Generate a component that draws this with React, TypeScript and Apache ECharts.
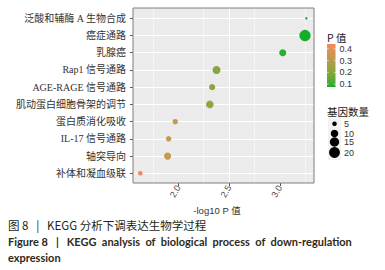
import React, { useEffect, useRef } from "react";
import * as echarts from "echarts";

// ---------- data ----------
const categories = [
  "泛酸和辅酶 A 生物合成",
  "癌症通路",
  "乳腺癌",
  "Rap1 信号通路",
  "AGE-RAGE 信号通路",
  "肌动蛋白细胞骨架的调节",
  "蛋白质消化吸收",
  "IL-17 信号通路",
  "轴突导向",
  "补体和凝血级联",
];
const negLog10P = [3.259, 3.246, 3.027, 2.376, 2.333, 2.31, 1.97, 1.905, 1.895, 1.626];
const geneCount = [4, 22, 9, 11, 7, 10, 6, 6, 9, 5];
const pValue = [0.08, 0.076, 0.09, 0.2, 0.21, 0.22, 0.33, 0.33, 0.34, 0.44];
const xTicks = [2.0, 2.5, 3.0];
const colorBreaks = [0.1, 0.2, 0.3, 0.4];
const sizeBreaks = [5, 10, 15, 20];

// ---------- scales ----------
const LOW = "#12AD2B";
const HIGH = "#F4885A";
const pMin = 0.076;
const pMax = 0.44;

function lin(c: number) {
  c /= 255;
  return c <= 0.04045 ? c / 12.92 : Math.pow((c + 0.055) / 1.055, 2.4);
}
function unlin(c: number) {
  const v = c <= 0.0031308 ? 12.92 * c : 1.055 * Math.pow(c, 1 / 2.4) - 0.055;
  return Math.round(Math.max(0, Math.min(1, v)) * 255);
}
function hexToLab(hex: string) {
  const r = lin(parseInt(hex.slice(1, 3), 16));
  const g = lin(parseInt(hex.slice(3, 5), 16));
  const b = lin(parseInt(hex.slice(5, 7), 16));
  const X = (0.4124 * r + 0.3576 * g + 0.1805 * b) / 0.95047;
  const Y = 0.2126 * r + 0.7152 * g + 0.0722 * b;
  const Z = (0.0193 * r + 0.1192 * g + 0.9505 * b) / 1.08883;
  const f = (t: number) => (t > 0.008856 ? Math.cbrt(t) : 7.787 * t + 16 / 116);
  const fx = f(X), fy = f(Y), fz = f(Z);
  return [116 * fy - 16, 500 * (fx - fy), 200 * (fy - fz)];
}
function labToHex(L: number, a: number, bb: number) {
  const fy = (L + 16) / 116;
  const fx = fy + a / 500;
  const fz = fy - bb / 200;
  const inv = (t: number) => (t * t * t > 0.008856 ? t * t * t : (t - 16 / 116) / 7.787);
  const X = inv(fx) * 0.95047, Y = inv(fy), Z = inv(fz) * 1.08883;
  const r = 3.2406 * X - 1.5372 * Y - 0.4986 * Z;
  const g = -0.9689 * X + 1.8758 * Y + 0.0415 * Z;
  const b = 0.0557 * X - 0.204 * Y + 1.057 * Z;
  const h = (v: number) => unlin(v).toString(16).padStart(2, "0");
  return "#" + h(r) + h(g) + h(b);
}
const labLow = hexToLab(LOW);
const labHigh = hexToLab(HIGH);
function colorAtT(t: number) {
  t = Math.max(0, Math.min(1, t));
  return labToHex(
    labLow[0] + (labHigh[0] - labLow[0]) * t,
    labLow[1] + (labHigh[1] - labLow[1]) * t,
    labLow[2] + (labHigh[2] - labLow[2]) * t
  );
}
const colorFor = (p: number) => colorAtT((p - pMin) / (pMax - pMin));

const nMin = Math.min(...geneCount);
const nMax = Math.max(...geneCount);
const sizeFor = (n: number) => 2.5 + 8.8 * Math.sqrt(Math.max(0, (n - nMin) / (nMax - nMin)));

// ---------- layout ----------
const panelLeft = 133;
const panelRight = 314;
const panelTop = 8;
const panelBottom = 183;
const pxPerUnit = 101.7;
const xAt2 = 178.3;
const axisMin = 1.5;
const axisMax = 3.5;
const axisLeft = xAt2 - (2 - axisMin) * pxPerUnit;
const panelMinV = axisMin + (panelLeft - axisLeft) / pxPerUnit;
const panelMaxV = axisMin + (panelRight - axisLeft) / pxPerUnit;
const rowTop = 18.3;
const rowBottom = 173.3;

const W = 385;
const H = 270;

export default function App() {
  const ref = useRef<HTMLDivElement>(null);
  useEffect(() => {
    if (!ref.current) return;
    const chart = echarts.init(ref.current, undefined, { renderer: "svg" });

    const cbX = 327, cbW = 8.5, cbTop = 44, cbBottom = 87;
    const cbY = (p: number) => cbBottom - ((p - pMin) / (pMax - pMin)) * (cbBottom - cbTop);
    const stops = [];
    for (let i = 0; i <= 10; i++) {
      stops.push({ offset: i / 10, color: colorAtT(1 - i / 10) });
    }
    const graphics: any[] = [];
    graphics.push({
      type: "text", x: 327, y: 37, z: 10,
      style: { text: "P 值", fill: "#1a1a1a", font: "10.5px 'Noto Sans CJK SC'", textAlign: "left", textVerticalAlign: "middle" },
    });
    graphics.push({
      type: "rect", z: 10,
      shape: { x: cbX, y: cbTop, width: cbW, height: cbBottom - cbTop },
      style: { fill: new echarts.graphic.LinearGradient(0, 0, 0, 1, stops) },
    });
    colorBreaks.forEach((b) => {
      const y = cbY(b);
      graphics.push({ type: "line", z: 11, shape: { x1: cbX, y1: y, x2: cbX + 1.7, y2: y }, style: { stroke: "#fff", lineWidth: 0.6 } });
      graphics.push({ type: "line", z: 11, shape: { x1: cbX + cbW - 1.7, y1: y, x2: cbX + cbW, y2: y }, style: { stroke: "#fff", lineWidth: 0.6 } });
      graphics.push({
        type: "text", x: 339.5, y, z: 10,
        style: { text: b.toFixed(1), fill: "#333", font: "9px 'Liberation Sans'", textAlign: "left", textVerticalAlign: "middle" },
      });
    });
    graphics.push({
      type: "text", x: 327, y: 111.5, z: 10,
      style: { text: "基因数量", fill: "#1a1a1a", font: "10.5px 'Noto Sans CJK SC'", textAlign: "left", textVerticalAlign: "middle" },
    });
    graphics.push({ type: "rect", z: 9, shape: { x: 328, y: 118.5, width: 13, height: 41.5 }, style: { fill: "#F2F2F2" } });
    const keyY = [123.8, 133.5, 142, 152.5];
    sizeBreaks.forEach((s, i) => {
      graphics.push({ type: "circle", z: 10, shape: { cx: 334.5, cy: keyY[i], r: sizeFor(s) / 2 }, style: { fill: "#000" } });
      graphics.push({
        type: "text", x: 344, y: keyY[i], z: 10,
        style: { text: String(s), fill: "#333", font: "9px 'Liberation Sans'", textAlign: "left", textVerticalAlign: "middle" },
      });
    });
    graphics.push({
      type: "text", x: 217, y: 210, z: 10,
      style: { text: "-log10 P 值", fill: "#333", font: "9.5px 'Liberation Sans', 'Noto Sans CJK SC'", textAlign: "center", textVerticalAlign: "middle" },
    });
    graphics.push({
      type: "text", x: 8, y: 225, z: 10,
      style: { text: "图 8   |   KEGG 分析下调表达生物学过程", fill: "#231f20", font: "11.5px 'Noto Sans CJK SC'", textAlign: "left", textVerticalAlign: "middle" },
    });
    graphics.push({
      type: "text", x: 8, y: 241, z: 10,
      style: { text: "Figure 8   |   KEGG  analysis  of  biological  process  of  down-regulation", fill: "#2e2a18", font: "bold 11px Lato", textAlign: "left", textVerticalAlign: "middle" },
    });
    graphics.push({
      type: "text", x: 8, y: 257, z: 10,
      style: { text: "expression", fill: "#2e2a18", font: "bold 11px Lato", textAlign: "left", textVerticalAlign: "middle" },
    });

    const hiddenV = (gridIndex: number) => ({ gridIndex, type: "value", show: false, min: 0, max: 1 });

    chart.setOption({
      animation: false,
      backgroundColor: "#fff",
      grid: [
        { left: panelLeft, top: panelTop, width: panelRight - panelLeft, height: panelBottom - panelTop, show: true, backgroundColor: "#EBEBEB", borderWidth: 0, outerBoundsMode: "none" },
        { left: axisLeft, top: panelTop, width: (axisMax - axisMin) * pxPerUnit, height: panelBottom - panelTop, outerBoundsMode: "none" },
        { left: panelLeft, top: rowTop, width: panelRight - panelLeft, height: rowBottom - rowTop, outerBoundsMode: "none" },
        { left: panelLeft, top: panelTop, width: panelRight - panelLeft, height: panelBottom - panelTop, show: true, backgroundColor: "transparent", borderColor: "#7F7F7F", borderWidth: 1, z: 20, outerBoundsMode: "none" },
      ],
      xAxis: [
        hiddenV(0),
        {
          gridIndex: 1, type: "value", min: axisMin, max: axisMax, interval: 0.5, position: "bottom",
          axisLine: { show: false },
          axisTick: { show: true, customValues: xTicks, length: 3, lineStyle: { color: "#555", width: 1 } },
          axisLabel: { customValues: xTicks, rotate: 60, margin: 3, fontSize: 9, color: "#4D4D4D", fontFamily: "'Liberation Sans'", formatter: (v: number) => v.toFixed(1) },
          splitLine: { show: true, showMinLine: false, showMaxLine: false, lineStyle: { color: "#fff", width: 1 } },
          minorTick: { show: false, splitNumber: 2 },
          minorSplitLine: { show: true, lineStyle: { color: "#fff", width: 0.5 } },
        },
        { gridIndex: 2, type: "value", show: false, min: panelMinV, max: panelMaxV },
        hiddenV(3),
      ],
      yAxis: [
        hiddenV(0),
        hiddenV(1),
        {
          gridIndex: 2, type: "category", data: categories, inverse: true, boundaryGap: false,
          axisLine: { show: false },
          axisTick: { show: true, interval: 0, length: 3, lineStyle: { color: "#555", width: 1 } },
          axisLabel: { interval: 0, margin: 7, fontSize: 10, color: "#333", fontFamily: "'Liberation Serif', 'Noto Sans CJK SC'" },
          splitLine: { show: true, interval: 0, lineStyle: { color: "#fff", width: 1 } },
        },
        hiddenV(3),
      ],
      series: [
        {
          type: "scatter",
          xAxisIndex: 2,
          yAxisIndex: 2,
          z: 5,
          data: categories.map((c, i) => [negLog10P[i], i, geneCount[i], pValue[i]]),
          symbol: "circle",
          symbolSize: (val: number[]) => sizeFor(val[2]),
          itemStyle: { opacity: 1, color: (p: any) => colorFor(pValue[p.dataIndex]) },
          emphasis: { disabled: true },
        },
      ],
      graphic: graphics,
    });
    return () => chart.dispose();
  }, []);
  return (
    <div style={{ position: "absolute", left: 0, top: 0, width: W, height: H, background: "#fff" }}>
      <div ref={ref} style={{ width: W, height: H }} />
    </div>
  );
}
